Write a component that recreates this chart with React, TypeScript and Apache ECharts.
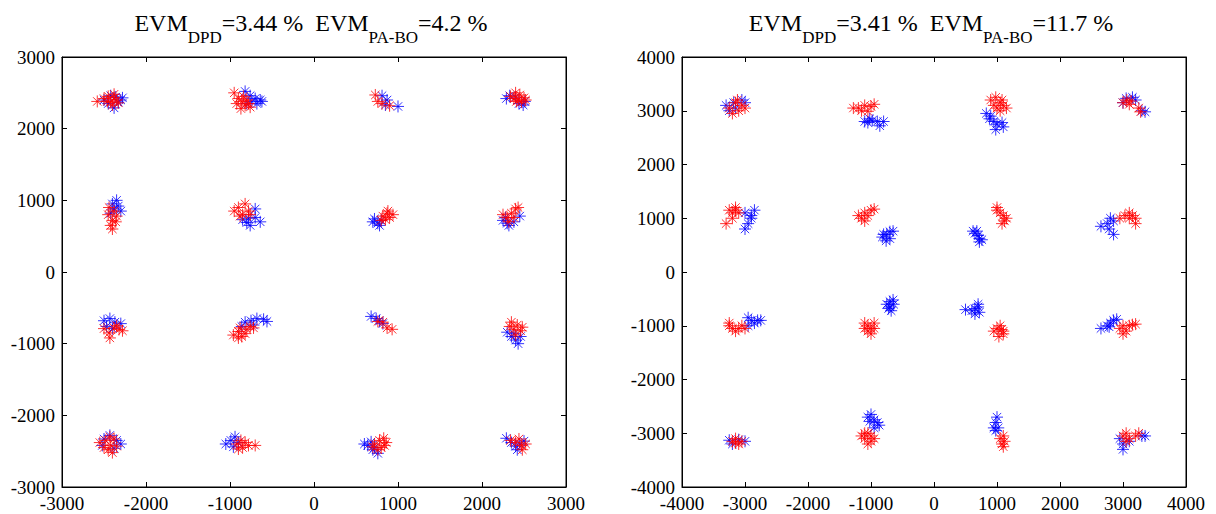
import React, { useEffect, useRef } from "react";
import * as echarts from "echarts";

// Left panel: DPD (red) and PA back-off (blue), [I, Q]
const leftDpd: number[][] = [
  [-2580, 2380], [-2500, 2420], [-2450, 2450], [-2420, 2370], [-2380, 2430], [-2350, 2400], [-2400, 2330], [-2330, 2360], [-2460, 2380], [-2380, 2480],
  [-950, 2500], [-900, 2420], [-860, 2380], [-820, 2330], [-870, 2280], [-800, 2400], [-780, 2350], [-920, 2350], [-840, 2450], [-760, 2300],
  [730, 2470], [810, 2350], [900, 2320], [760, 2380],
  [2340, 2450], [2400, 2500], [2450, 2470], [2500, 2430], [2430, 2400], [2380, 2420], [2470, 2370], [2520, 2400], [2410, 2380],
  [-2450, 800], [-2400, 720], [-2380, 850], [-2420, 650], [-2350, 780], [-2440, 900], [-2400, 600], [-2360, 700],
  [-950, 850], [-900, 900], [-850, 800], [-820, 950], [-780, 850], [-880, 780], [-760, 800],
  [820, 780], [870, 820], [900, 760], [940, 800], [850, 730], [800, 720], [880, 850],
  [2250, 800], [2300, 760], [2350, 820], [2400, 880], [2430, 900], [2380, 760], [2320, 700],
  [-2500, -790], [-2440, -850], [-2380, -780], [-2320, -800], [-2280, -820], [-2430, -920], [-2350, -750],
  [-960, -880], [-900, -830], [-860, -900], [-800, -800], [-760, -760], [-720, -780], [-880, -780], [-820, -860], [-900, -920],
  [760, -690], [820, -700], [870, -780], [930, -800],
  [2350, -700], [2420, -740], [2380, -800], [2460, -820], [2400, -880], [2330, -760], [2480, -770],
  [-2550, -2380], [-2480, -2350], [-2420, -2420], [-2380, -2330], [-2450, -2480], [-2400, -2520], [-2350, -2430], [-2500, -2450], [-2430, -2300],
  [-920, -2400], [-870, -2350], [-820, -2380], [-780, -2420], [-700, -2420], [-850, -2450], [-900, -2470],
  [720, -2400], [780, -2350], [830, -2320], [860, -2380], [800, -2450], [760, -2480], [840, -2420], [700, -2440],
  [2340, -2350], [2400, -2380], [2470, -2420], [2520, -2400], [2480, -2480], [2440, -2330],
];

const leftBo: number[][] = [
  [-2500, 2400], [-2420, 2460], [-2360, 2440], [-2300, 2400], [-2280, 2430], [-2380, 2290], [-2330, 2370], [-2450, 2350],
  [-820, 2520], [-760, 2460], [-700, 2420], [-640, 2400], [-620, 2380], [-680, 2350], [-740, 2380], [-800, 2350],
  [810, 2460], [850, 2330], [1000, 2310], [870, 2400],
  [2290, 2420], [2330, 2460], [2440, 2350], [2490, 2330], [2510, 2380], [2400, 2440],
  [-2400, 950], [-2330, 920], [-2300, 850], [-2380, 880], [-2420, 820], [-2350, 1000],
  [-850, 730], [-780, 750], [-700, 760], [-640, 700], [-760, 650], [-700, 880], [-800, 690],
  [720, 740], [760, 680], [780, 650], [700, 700], [800, 720],
  [2250, 720], [2300, 680], [2380, 700], [2450, 780], [2320, 650], [2280, 760],
  [-2500, -680], [-2430, -650], [-2370, -700], [-2300, -720], [-2470, -760], [-2400, -790],
  [-820, -700], [-750, -680], [-680, -650], [-600, -660], [-560, -690], [-860, -760], [-720, -740],
  [680, -620], [740, -650], [780, -680], [820, -720],
  [2300, -840], [2350, -900], [2400, -950], [2430, -1000], [2380, -860], [2460, -900],
  [-2500, -2330], [-2430, -2280], [-2350, -2350], [-2300, -2400], [-2520, -2420], [-2380, -2460],
  [-1050, -2400], [-990, -2350], [-940, -2300], [-960, -2440], [-900, -2380],
  [600, -2400], [680, -2370], [720, -2450], [760, -2530], [640, -2420], [700, -2480],
  [2290, -2320], [2350, -2380], [2400, -2430], [2450, -2400], [2500, -2360], [2420, -2480],
];

// Right panel
const rightDpd: number[][] = [
  [-3250, 3050], [-3150, 3150], [-3100, 3000], [-3050, 3100], [-3200, 2950], [-3120, 3200], [-3000, 3050],
  [-1280, 3050], [-1200, 3050], [-1100, 3100], [-1000, 3080], [-950, 3120], [-1050, 2990], [-1150, 3000],
  [900, 3200], [980, 3250], [1050, 3150], [1100, 3100], [1000, 3050], [1050, 3000], [1150, 3050], [950, 3100], [1080, 3200],
  [3000, 3150], [3060, 3200], [3130, 3180], [3250, 3050], [3280, 2980], [3100, 3120],
  [-3250, 1150], [-3200, 1100], [-3150, 1200], [-3100, 1100], [-3300, 900], [-3200, 1000], [-3150, 1150],
  [-1200, 1050], [-1150, 1000], [-1100, 1100], [-1000, 1150], [-950, 1170], [-1100, 950], [-1050, 1050],
  [1000, 1200], [1050, 1100], [1100, 1050], [1150, 1000], [1080, 900], [1000, 1150], [1120, 950],
  [2950, 1000], [3030, 1050], [3100, 1100], [3150, 1050], [3200, 1000], [3200, 900], [3100, 1000],
  [-3250, -1000], [-3200, -1050], [-3150, -1100], [-3100, -1050], [-3000, -1050], [-3050, -1000], [-3250, -950],
  [-1100, -950], [-1050, -1000], [-1000, -1050], [-950, -950], [-1050, -1100], [-1000, -1150], [-1100, -1050], [-950, -1050],
  [950, -1100], [1000, -1050], [1050, -1000], [1100, -1100], [1100, -1150], [1030, -1200], [1070, -1070],
  [2950, -1050], [3000, -1000], [3050, -1100], [3100, -1000], [3150, -980], [3200, -970], [3000, -1150],
  [-3200, -3150], [-3150, -3100], [-3100, -3200], [-3050, -3150], [-3150, -3180],
  [-1150, -3050], [-1100, -3100], [-1050, -3000], [-1000, -3150], [-950, -3100], [-1050, -3200], [-1100, -3000], [-1000, -3050],
  [1050, -3100], [1080, -3200], [1100, -3250], [1120, -3150], [1100, -3050],
  [3000, -3050], [3050, -3000], [3100, -3100], [3200, -3050], [3050, -3150], [3250, -3000],
];

const rightBo: number[][] = [
  [-3300, 3100], [-3250, 3000], [-3180, 3150], [-3050, 3200], [-3000, 3150], [-3150, 3050],
  [-1100, 2800], [-1050, 2780], [-980, 2820], [-900, 2800], [-800, 2800], [-860, 2720], [-1020, 2850],
  [830, 2950], [880, 2850], [950, 2800], [1000, 2750], [1080, 2780], [980, 2650], [1100, 2700], [900, 2900],
  [3050, 3230], [3150, 3250], [3200, 3200], [3300, 3000], [3350, 2980], [3000, 3150],
  [-3000, 1100], [-2900, 1000], [-2850, 1150], [-2950, 900], [-3000, 800], [-2900, 1050],
  [-820, 650], [-750, 700], [-700, 750], [-650, 760], [-760, 580], [-700, 620], [-800, 700],
  [620, 760], [650, 720], [700, 680], [720, 620], [760, 600], [680, 760], [720, 560],
  [2650, 850], [2750, 900], [2800, 1000], [2850, 950], [2780, 800], [2850, 700],
  [-2950, -850], [-2900, -900], [-2850, -950], [-2800, -900], [-2750, -900], [-2950, -1000],
  [-750, -600], [-700, -550], [-650, -520], [-700, -650], [-680, -720], [-720, -680], [-640, -600],
  [500, -700], [600, -720], [650, -680], [700, -650], [720, -750], [650, -780], [700, -600],
  [2650, -1050], [2750, -1000], [2800, -950], [2850, -900], [2900, -880], [2780, -1020],
  [-3250, -3130], [-3200, -3200], [-3100, -3120], [-3000, -3150],
  [-1050, -2700], [-1000, -2650], [-950, -2750], [-900, -2800], [-950, -2900], [-1020, -2780], [-870, -2850],
  [950, -2900], [980, -2800], [1000, -2700], [1020, -2900], [980, -2950],
  [2950, -3100], [3000, -3200], [3000, -3300], [3300, -3050], [3350, -3050], [3100, -3150],
];

const leftTitle = { evmDpd: "3.44", evmBo: "4.2" };
const rightTitle = { evmDpd: "3.41", evmBo: "11.7" };
const leftRange = [-3000, 3000];
const rightRange = [-4000, 4000];
const tickStep = 1000;

const FONT = "Liberation Serif";
const STAR = "path://M5,0L5,10M0,5L10,5M1.5,1.5L8.5,8.5M1.5,8.5L8.5,1.5";

export default function App() {
  const ref = useRef<HTMLDivElement>(null);
  useEffect(() => {
    if (!ref.current) return;
    const chart = echarts.init(ref.current, null, { renderer: "svg" });
    const grids = [
      { left: 62, top: 57, width: 504, height: 430 },
      { left: 682, top: 57, width: 504, height: 430 },
    ];
    const ranges = [leftRange, rightRange];
    const xAxes: any[] = [];
    const yAxes: any[] = [];
    ranges.forEach((r, gi) => {
      const base = {
        type: "value", min: r[0], max: r[1], interval: tickStep, gridIndex: gi,
        axisLine: { show: true, onZero: false, lineStyle: { color: "#000", width: 1 } },
        axisTick: { show: true, inside: true, length: 5, lineStyle: { color: "#000" } },
        splitLine: { show: false },
      };
      const label = { color: "#000", fontFamily: FONT, fontSize: 19, margin: 7, formatter: (v: number) => String(v) };
      xAxes.push({ ...base, position: "bottom", axisLabel: label });
      xAxes.push({ ...base, position: "top", axisLabel: { show: false } });
      yAxes.push({ ...base, position: "left", axisLabel: label });
      yAxes.push({ ...base, position: "right", axisLabel: { show: false } });
    });
    const mk = (data: number[][], color: string, gi: number) => ({
      type: "scatter", xAxisIndex: gi * 2, yAxisIndex: gi * 2, data,
      symbol: STAR, symbolSize: 12,
      itemStyle: { color: "none", borderColor: color, borderWidth: 1 },
      emphasis: { disabled: true },
    });
    const dummy = (gi: number) => ({
      type: "scatter", xAxisIndex: gi * 2 + 1, yAxisIndex: gi * 2 + 1, data: [], silent: true,
    });
    const rich = {
      m: { fontSize: 24, fontFamily: FONT, color: "#000", fontWeight: "normal", verticalAlign: "middle", lineHeight: 24 },
      s: { fontSize: 17, fontFamily: FONT, color: "#000", fontWeight: "normal", verticalAlign: "bottom", lineHeight: 46 },
    };
    const titleText = (t: { evmDpd: string; evmBo: string }) =>
      `{m|EVM}{s|DPD}{m|=${t.evmDpd} %  EVM}{s|PA-BO}{m|=${t.evmBo} %}`;
    chart.setOption({
      animation: false,
      backgroundColor: "#fff",
      title: [
        { text: titleText(leftTitle), left: 311, top: 0, padding: 0, textAlign: "center", textStyle: { fontWeight: "normal", fontFamily: FONT, rich } },
        { text: titleText(rightTitle), left: 931, top: 0, padding: 0, textAlign: "center", textStyle: { fontWeight: "normal", fontFamily: FONT, rich } },
      ],
      grid: grids.map((g) => ({ ...g, show: true, borderColor: "#000", borderWidth: 1, backgroundColor: "transparent" })),
      xAxis: xAxes,
      yAxis: yAxes,
      series: [
        mk(leftBo, "#0000ff", 0), mk(leftDpd, "#ff0000", 0),
        mk(rightBo, "#0000ff", 1), mk(rightDpd, "#ff0000", 1),
        dummy(0), dummy(1),
      ],
    });
    return () => chart.dispose();
  }, []);
  return (
    <div ref={ref} style={{ position: "absolute", left: 0, top: 0, width: 1216, height: 514 }} />
  );
}
